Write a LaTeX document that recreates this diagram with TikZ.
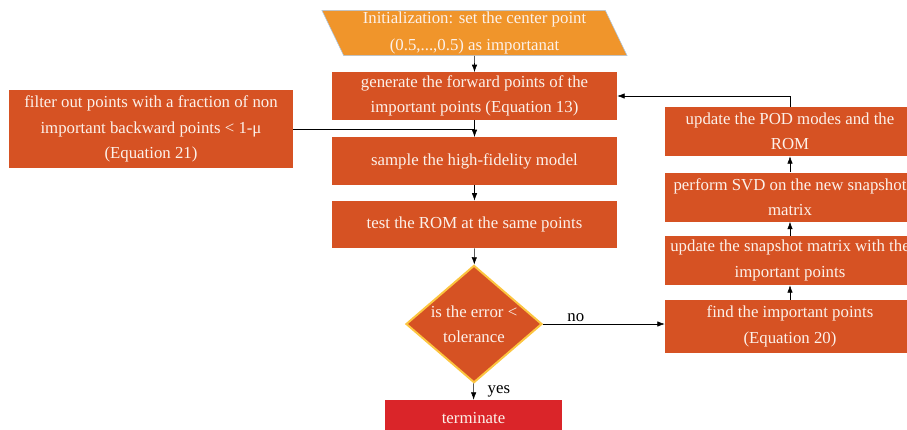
\documentclass[tikz,border=0pt]{standalone}
\usepackage{fontspec}
\setmainfont{Liberation Serif}
\usetikzlibrary{arrows.meta,shapes.geometric}
\definecolor{stepfill}{HTML}{D65223}
\definecolor{initfill}{HTML}{F0952B}
\definecolor{initline}{HTML}{A9C8E8}
\definecolor{stopfill}{HTML}{DA2529}
\definecolor{checkline}{HTML}{FCC540}
\definecolor{steptext}{HTML}{FCF1EA}

\begin{document}
\begin{tikzpicture}[x=0.75pt,y=-0.75pt,
  flowbox/.style={fill=stepfill,text=steptext,align=center,inner sep=0pt,
    font=\fontsize{12.6}{19}\selectfont},
  midbox/.style={flowbox,minimum width=213.75pt,minimum height=35.5pt},
  sidebox/.style={flowbox,minimum width=187.5pt,minimum height=36.75pt},
  flowarrow/.style={-{Latex[length=5.5pt,width=4pt]},black}]
  \useasboundingbox (0,0) rectangle (907,429);
  \clip (0,0) rectangle (907,429);

  % start
  \node[flowbox,shape=trapezium,trapezium left angle=114,trapezium right angle=66,
    trapezium stretches=true,minimum width=229pt,minimum height=34pt,
    fill=initfill,draw=initline,font=\fontsize{12.6}{20}\selectfont] (init) at (474.5,33)
    {Initialization: set the center point\\(0.5,...,0.5) as importanat};

  % main column
  \node[midbox] (gen) at (474.5,96) {generate the forward points  of the\\important points (Equation 13)};
  \node[midbox] (sample) at (474.5,161) {sample the high-fidelity model};
  \node[midbox] (test) at (474.5,224.5) {test the ROM at the same points};
  \node[flowbox,shape=diamond,draw=checkline,line width=1.5pt,aspect=1.16,
    minimum width=102pt,minimum height=88pt] (check) at (474,324) {is the error <\\tolerance};
  \node[flowbox,fill=stopfill,minimum width=132.75pt,minimum height=27pt] (stop) at (473.5,418) {terminate};

  % filter on the left
  \node[flowbox,minimum width=213pt,minimum height=58.5pt] (filter) at (151,129)
    {filter out points with a fraction of non\\important backward points < 1-μ\\(Equation  21)};

  % update loop on the right
  \node[sidebox] (pod) at (790,131.5) {update the POD modes and the\\ROM};
  \node[sidebox] (svd) at (790,197) {perform SVD on the new snapshot\\matrix};
  \node[sidebox] (snap) at (790,260.5) {update the snapshot matrix with the\\important points};
  \node[sidebox,minimum height=39.75pt] (find) at (790,326.5) {find the important points\\(Equation 20)};

  % connectors
  \draw[flowarrow] (init.south) -- (gen.north);
  \draw[flowarrow] (gen) -- (sample);
  \draw[black] (filter.east) -- (filter.east -| gen.south);
  \draw[flowarrow] (sample) -- (test);
  \draw[flowarrow] (test) -- (check);
  \draw[flowarrow] (check.east) -- node[pos=0.27,above=-2pt,font=\fontsize{12.6}{15}\selectfont] {no} (check.east -| find.west);
  \draw[flowarrow] (check) -- node[right=7pt,font=\fontsize{12.6}{15}\selectfont] {yes} (stop);
  \draw[flowarrow] (find) -- (snap);
  \draw[flowarrow] (snap) -- (svd);
  \draw[flowarrow] (svd) -- (pod);
  \draw[flowarrow] (pod.north) |- (gen.east);
\end{tikzpicture}
\end{document}
